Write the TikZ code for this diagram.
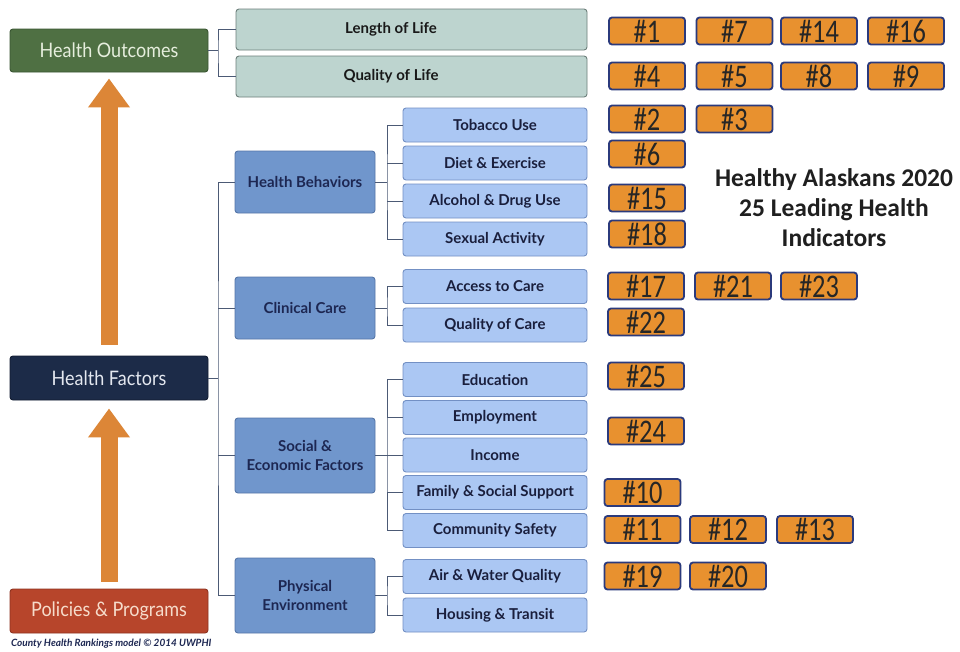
\documentclass[tikz,border=0pt]{standalone}
\usepackage{fontspec}
\setmainfont{Lato}
\newfontfamily\latoreg[FakeStretch=0.9]{Lato}
\newfontfamily\badgefont[FakeStretch=0.8]{Carlito}
\newfontfamily\titlefont{Carlito}
\usetikzlibrary{arrows.meta}
\definecolor{hoFill}{HTML}{4F7043}
\definecolor{hoDraw}{HTML}{3A5532}
\definecolor{hoText}{HTML}{E6EEDD}
\definecolor{lolFill}{HTML}{BDD4CF}
\definecolor{lolDraw}{HTML}{6D7F7B}
\definecolor{hfFill}{HTML}{1C2B48}
\definecolor{hfDraw}{HTML}{121C31}
\definecolor{hfText}{HTML}{E4E8F0}
\definecolor{ppFill}{HTML}{B7452B}
\definecolor{ppDraw}{HTML}{8E3320}
\definecolor{ppText}{HTML}{F6DCCB}
\definecolor{catFill}{HTML}{7096CC}
\definecolor{catDraw}{HTML}{5576A8}
\definecolor{catText}{HTML}{1D2752}
\definecolor{subFill}{HTML}{ABC7F3}
\definecolor{subDraw}{HTML}{7390C4}
\definecolor{subText}{HTML}{1A1F3D}
\definecolor{badgeFill}{HTML}{E8912F}
\definecolor{badgeDraw}{HTML}{2B3A7C}
\definecolor{arrowFill}{HTML}{DC8637}
\definecolor{lineCol}{HTML}{4C5A75}
\tikzset{
  box/.style={rectangle, rounded corners=3pt, line width=0.9pt, inner sep=0pt, align=center},
  outcome/.style={box, fill=hoFill, draw=hoDraw, minimum width=198pt, minimum height=43pt,
     font=\latoreg\fontsize{20}{22}\selectfont, text=hoText},
  factors/.style={box, fill=hfFill, draw=hfDraw, minimum width=198pt, minimum height=44pt,
     font=\latoreg\fontsize{20}{22}\selectfont, text=hfText},
  policies/.style={box, fill=ppFill, draw=ppDraw, minimum width=198pt, minimum height=44pt,
     font=\latoreg\fontsize{20}{22}\selectfont, text=ppText},
  lifebox/.style={box, fill=lolFill, draw=lolDraw, minimum width=351pt, minimum height=41pt,
     font=\bfseries\fontsize{15}{18}\selectfont, text=black!90},
  catbox/.style={box, fill=catFill, draw=catDraw, minimum width=140pt,
     font=\bfseries\fontsize{15}{18.5}\selectfont, text=catText},
  subbox/.style={box, fill=subFill, draw=subDraw, minimum width=184pt, minimum height=34pt,
     font=\bfseries\fontsize{15}{18}\selectfont, text=subText},
  badge/.style={rectangle, rounded corners=3pt, fill=badgeFill, draw=badgeDraw, line width=1.8pt,
     minimum width=76pt, minimum height=27pt, inner sep=0pt,
     font=\badgefont\fontsize{33}{33}\selectfont, text=black!85},
  conn/.style={draw=lineCol, line width=0.8pt},
  uparrow/.style={line width=17pt, draw=arrowFill, line cap=butt,
     -{Triangle[length=29pt, width=40pt]}},
}
\begin{document}
\begin{tikzpicture}[x=1pt, y=-1pt]
\fill[white] (0,0) rectangle (960,651);
\useasboundingbox (0,0) rectangle (960,651);

% left column
\node[outcome] (ho) at (109,50.5) {Health Outcomes};
\node[factors] (hf) at (109,378) {Health Factors};
\node[policies] (pp) at (109,611) {Policies \& Programs};
\node[anchor=north west, inner sep=0pt, font=\itshape\bfseries\fontsize{10}{12}\selectfont, text=catText]
  (cap) at (11,639) {County Health Rankings model \textcopyright{} 2014 UWPHI};

% arrows
\draw[uparrow] ([yshift=7pt]pp.north) -- ([yshift=-8pt]hf.south);
\draw[uparrow] ([yshift=11pt]hf.north) -- ([yshift=-6pt]ho.south);

% outcomes
\node[lifebox] (lol) at (411.5,29.5) {\hspace*{-41pt}Length of Life};
\node[lifebox] (qol) at (411.5,76.5) {\hspace*{-41pt}Quality of Life};

% categories
\node[catbox, minimum height=62pt] (hb) at (305,182) {Health Behaviors};
\node[catbox, minimum height=62pt] (cc) at (305,308) {Clinical Care};
\node[catbox, minimum height=75pt] (se) at (305,455.5) {Social \&\\Economic Factors};
\node[catbox, minimum height=75pt] (pe) at (305,595.5) {Physical\\Environment};

% sub factors
\node[subbox] (tob) at (495,125) {Tobacco Use};
\node[subbox] (diet) at (495,163) {Diet \& Exercise};
\node[subbox] (alc) at (495,201) {Alcohol \& Drug Use};
\node[subbox] (sex) at (495,239) {Sexual Activity};
\node[subbox] (acc) at (495,286.5) {Access to Care};
\node[subbox] (qoc) at (495,325) {Quality of Care};
\node[subbox] (edu) at (495,379.5) {Education};
\node[subbox] (emp) at (495,417.5) {Employment};
\node[subbox] (inc) at (495,455) {Income};
\node[subbox] (fam) at (495,492.5) {Family \& Social Support};
\node[subbox] (com) at (495,530.5) {Community Safety};
\node[subbox] (air) at (495,576.5) {Air \& Water Quality};
\node[subbox] (hou) at (495,615) {Housing \& Transit};

% connectors
\coordinate (jo) at (218,50.5);
\draw[conn] (ho.east) -- (jo);
\draw[conn] (lol.west) -| (jo) |- (qol.west);

\coordinate (spine) at (218,378);
\draw[conn] (hf.east) -- (spine);
\draw[conn] (hb.west) -| (spine) |- (pe.west);
\draw[conn] (cc.west) -- (cc.west -| spine);
\draw[conn] (se.west) -- (se.west -| spine);

\coordinate (jhb) at (387,182);
\draw[conn] (hb.east) -- (jhb);
\draw[conn] (tob.west) -| (jhb) |- (sex.west);
\draw[conn] (diet.west) -- (diet.west -| jhb);
\draw[conn] (alc.west) -- (alc.west -| jhb);

\coordinate (jcc) at (387,308);
\draw[conn] (cc.east) -- (jcc);
\draw[conn] (acc.west) -| (jcc) |- (qoc.west);

\coordinate (jse) at (387,455.5);
\draw[conn] (se.east) -- (jse);
\draw[conn] (edu.west) -| (jse) |- (com.west);
\draw[conn] (emp.west) -- (emp.west -| jse);
\draw[conn] (inc.west) -- (inc.west -| jse);
\draw[conn] (fam.west) -- (fam.west -| jse);

\coordinate (jpe) at (387,595.5);
\draw[conn] (pe.east) -- (jpe);
\draw[conn] (air.west) -| (jpe) |- (hou.west);

% badges
\node[badge] (b1) at (647,31) {\#1};
\node[badge] (b7) at (734.5,31) {\#7};
\node[badge] (b14) at (819,31) {\#14};
\node[badge] (b16) at (906,31) {\#16};
\node[badge] (b4) at (647,76) {\#4};
\node[badge] (b5) at (734.5,76) {\#5};
\node[badge] (b8) at (819,76) {\#8};
\node[badge] (b9) at (906,76) {\#9};
\node[badge] (b2) at (647,119) {\#2};
\node[badge] (b3) at (734.5,119) {\#3};
\node[badge] (b6) at (647,154) {\#6};
\node[badge] (b15) at (647,198) {\#15};
\node[badge] (b18) at (647,234) {\#18};
\node[badge] (b17) at (646,286) {\#17};
\node[badge] (b21) at (733,286) {\#21};
\node[badge] (b23) at (819,286) {\#23};
\node[badge] (b22) at (646,322) {\#22};
\node[badge] (b25) at (646,376) {\#25};
\node[badge] (b24) at (646,431) {\#24};
\node[badge] (b10) at (642.5,492.5) {\#10};
\node[badge] (b11) at (642.5,529.5) {\#11};
\node[badge] (b12) at (728,529.5) {\#12};
\node[badge] (b13) at (815,529.5) {\#13};
\node[badge] (b19) at (642.5,576) {\#19};
\node[badge] (b20) at (728,576) {\#20};

% title
\node[align=center, inner sep=0pt, font=\titlefont\bfseries\fontsize{25.5}{30}\selectfont, text=black!88]
  (title) at (834,207.5) {Healthy Alaskans 2020\\25 Leading Health\\Indicators};
\end{tikzpicture}
\end{document}
